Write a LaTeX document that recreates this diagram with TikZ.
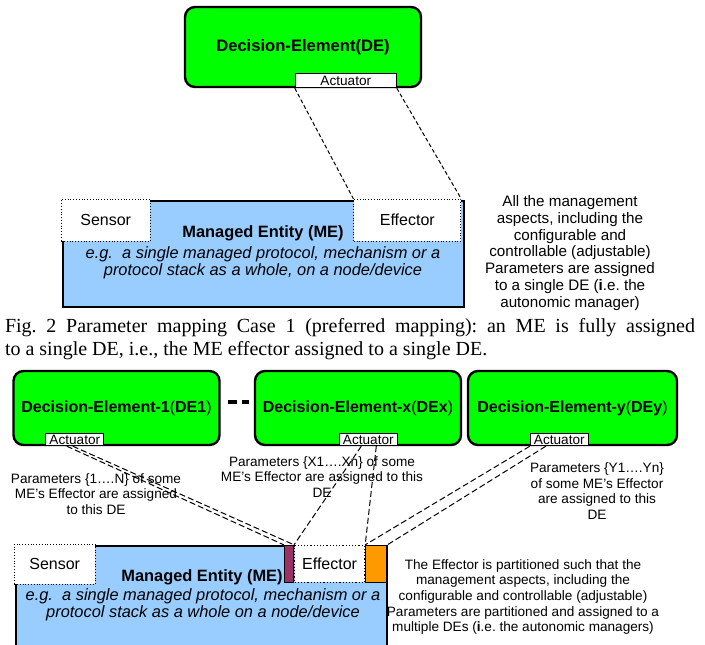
\documentclass[tikz,border=0pt]{standalone}
\usepackage{fontspec}
\setmainfont{Liberation Sans}
\newfontfamily\capfont{Liberation Serif}
\usetikzlibrary{calc,positioning}
\definecolor{degreen}{HTML}{00FF00}
\definecolor{meblue}{HTML}{99CCFF}
\definecolor{plum}{HTML}{993366}
\definecolor{orng}{HTML}{FF9900}
\frenchspacing
\begin{document}
\begin{tikzpicture}[x=0.5pt, y=-0.5pt,
          de/.style={draw, line width=1.2pt, fill=degreen, rounded corners=5pt, minimum width=103pt, minimum height=37pt, font=\fontsize{8}{9}\selectfont\bfseries},
          act/.style={draw, line width=0.5pt, fill=white, inner sep=0pt, minimum width=29pt, minimum height=6pt, font=\fontsize{6.8}{7}\selectfont},
          me/.style={draw, line width=1.2pt, fill=meblue, inner sep=0pt},
          part/.style={draw, densely dotted, line width=0.4pt, fill=white, inner sep=0pt, font=\fontsize{8}{9}\selectfont},
          piece/.style={draw, line width=0.6pt, inner sep=0pt, minimum height=18.5pt, anchor=north west},
          bold/.style={font=\fontsize{8.2}{9}\selectfont\bfseries},
          ital/.style={align=center, font=\fontsize{8.2}{8.6}\selectfont\itshape},
          note/.style={align=center, inner sep=0pt, font=\fontsize{6.8}{7.8}\selectfont},
          link/.style={line width=0.5pt, dash pattern=on 2pt off 1.2pt},
          linkb/.style={line width=0.5pt, dash pattern=on 3pt off 1.5pt}]
          \useasboundingbox (0,0) rectangle (705,644);
          \clip (0,0) rectangle (705,644);
          % Case 1: hele ME til en DE
          \node[de, minimum width=118pt, minimum height=40pt, font=\fontsize{8.3}{9}\selectfont\bfseries] (de) at (303,47) {Decision-Element(DE)};
          \node[act, minimum width=50.5pt, minimum height=7pt, anchor=south west] (act) at ($(de.south west)+(111,0)$) {Actuator};
          \node[me, minimum width=200.5pt, minimum height=53pt] (me) at (263.5,254) {};
          \node[part, minimum width=44.5pt, minimum height=21pt, anchor=north west] (sen) at ($(me.north west)+(-1,-1)$) {Sensor};
          \node[part, minimum width=53.5pt, minimum height=21pt, anchor=north east] (eff) at ($(me.north east)+(-4,-1)$) {Effector};
          \node[bold] (metitle) at (263,233) {Managed Entity (ME)};
          \node[ital] (medesc) at (263,263) {e.g.\ \ a single managed protocol, mechanism or a\\protocol stack as a whole, on a node/device};
          \draw[link] (act.south west) -- (eff.north west);
          \draw[link] (act.south east) -- (eff.north east);
          \node[note, font=\fontsize{7.6}{8.4}\selectfont] (note1) at (570,253) {All the management\\aspects, including the\\configurable and\\controllable (adjustable)\\Parameters are assigned\\to a single DE (\textbf{i}.e. the\\autonomic manager)};
          % figurtekst
          \node[text width=345pt, align=justify, inner sep=0pt, font=\capfont\fontsize{10}{11.5}\selectfont] (cap) at (350,339) {Fig. 2 Parameter mapping Case 1 (preferred mapping): an ME is fully assigned\linebreak to a single DE, i.e., the ME effector assigned to a single DE.};
          % Case 2: effector delt mellem flere DE
          \node[de] (de1) at (116.5,408) {Decision-Element-1\textmd{(}DE1\textmd{)}};
          \node[de] (dex) at (358,408) {Decision-Element-x\textmd{(}DEx\textmd{)}};
          \node[de, minimum width=104.5pt] (dey) at (572.5,408) {Decision-Element-y\textmd{(}DEy\textmd{)}};
          \node[act, anchor=south west] (act1) at ($(de1.south west)+(33,0)$) {Actuator};
          \node[act, anchor=south west] (actx) at ($(dex.south west)+(85,0)$) {Actuator};
          \node[act, anchor=south west] (acty) at ($(dey.south west)+(63,0)$) {Actuator};
          \draw[line width=2.2pt, dash pattern=on 4.5pt off 2.5pt] ($(de1.east)+(7,-6)$) -- ($(dex.west)+(-5,-6)$);
          \node[me, minimum width=185.5pt, minimum height=57pt] (me2) at (201.5,603) {};
          \node[part, minimum width=40.5pt, minimum height=20pt, anchor=north west] (sen2) at ($(me2.north west)+(-1,-1)$) {Sensor};
          \node[piece, fill=plum, minimum width=4.5pt] (plpart) at ($(me2.north west)+(269,0)$) {};
          \node[part, piece, minimum width=35pt] (eff2) at (plpart.north east) {Effector};
          \node[piece, fill=orng, minimum width=10.5pt] (orpart) at (eff2.north east) {};
          \node[bold] (metitle2) at (202,577) {Managed Entity (ME)};
          \node[ital] (medesc2) at (203,604.5) {e.g.\ \ a single managed protocol, mechanism or a\\protocol stack as a whole on a node/device};
          \node[note] (par1) at (96,494) {Parameters \{1….N\} of some\\ME’s Effector are assigned\\to this DE};
          \node[note] (parx) at (322,477) {Parameters \{X1….Xn\} of some\\ME’s Effector are assigned to this\\DE};
          \node[note] (pary) at (597,491) {Parameters \{Y1….Yn\}\\of some ME’s Effector\\are assigned to this\\DE};
          \node[note] (note2) at (523,597) {The Effector is partitioned such that the\\management aspects, including the\\configurable and controllable (adjustable)\\Parameters are partitioned and assigned to a\\multiple DEs (\textbf{i}.e. the autonomic managers)};
          \draw[linkb] ($(act1.south)+(-8,0)$) -- (plpart.north west);
          \draw[linkb] ($(act1.south)+(-2,0)$) -- (plpart.north east);
          \draw[linkb] ($(actx.south)+(-7,0)$) -- (plpart.north east);
          \draw[linkb] ($(actx.south)+(8,0)$) -- (orpart.north west);
          \draw[linkb] (acty.south west) -- (orpart.north west);
          \draw[linkb] ($(acty.south west)+(16,0)$) -- (orpart.north east);
        \end{tikzpicture}
\end{document}
